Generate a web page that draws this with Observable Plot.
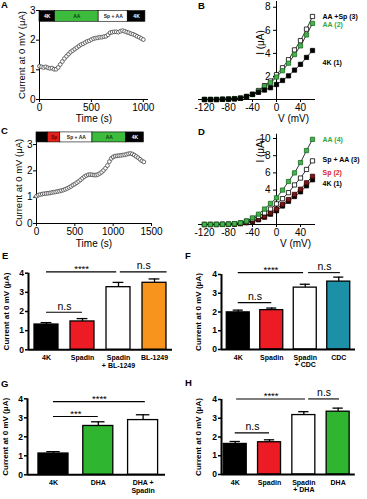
<!DOCTYPE html>
<html>
<head>
<meta charset="utf-8">
<script src="https://cdn.jsdelivr.net/npm/d3@7"></script>
<script src="https://cdn.jsdelivr.net/npm/@observablehq/plot@0.6"></script>
<style>
  html,body{margin:0;padding:0;background:#fff;}
  #root{position:relative;width:367px;height:499px;overflow:hidden;font-family:"Liberation Sans",Arial,sans-serif;}
  .panel{position:absolute;}
  .panel svg{overflow:visible;display:block;max-width:none;}
  .letter{position:absolute;font-weight:bold;font-size:9.5px;line-height:10px;color:#000;}
</style>
</head>
<body>
<div id="root"></div>
<script>
// ================= DATA =================
// Panel A: current at 0 mV over time
const aTime = [0,20,40,60,80,100,120,140,160,180,200,220,240,260,280,300,320,340,360,380,400,420,440,460,480,500,520,540,560,580,600,620,640,660,680,700,720,740,760,780,800,820,840,860,880,900,920,940,960,980,1000];
const aCurrent = [1.12,1.10,1.08,1.10,1.07,1.05,1.06,1.02,1.02,1.08,1.18,1.28,1.38,1.46,1.53,1.60,1.65,1.70,1.75,1.80,1.85,1.88,1.92,1.96,1.98,2.02,2.05,2.07,2.08,2.10,2.10,2.12,2.13,2.18,2.25,2.27,2.28,2.28,2.27,2.30,2.32,2.30,2.27,2.25,2.22,2.20,2.17,2.13,2.10,2.06,2.02];
const aProtoLabel = ["4K","AA","Sp + AA","4K"];
const aProtoText  = ["4K","AA","Sp + AA","4K"];
const aProtoStart = [0,150,570,850];
const aProtoEnd   = [150,570,850,1020];

// Panel C
const cTime = [0,25,50,75,100,125,150,175,200,225,250,275,300,325,350,375,400,425,450,475,500,525,550,575,600,625,650,675,700,725,750,775,800,825,850,875,900,925,950,975,1000,1025,1050,1075,1100,1125,1150,1175,1200,1225,1250,1275,1300,1325,1350,1375,1400];
const cCurrent = [1.04,1.08,1.10,1.12,1.13,1.14,1.15,1.16,1.18,1.19,1.20,1.22,1.23,1.25,1.27,1.30,1.33,1.37,1.41,1.46,1.50,1.55,1.60,1.66,1.72,1.78,1.82,1.85,1.86,1.85,1.84,1.84,1.86,1.90,1.95,2.02,2.10,2.20,2.35,2.47,2.53,2.56,2.57,2.58,2.59,2.60,2.61,2.63,2.65,2.66,2.64,2.60,2.55,2.50,2.44,2.38,2.34];
const cProtoLabel = ["4K","Sp","Sp + AA","AA","4K"];
const cProtoText  = ["","Sp","Sp + AA","AA","4K"];
const cProtoStart = [0,150,310,730,1170];
const cProtoEnd   = [150,310,730,1170,1400];

// Panels B & D: I-V curves
const ivVoltage = [-120,-110,-100,-90,-80,-70,-60,-50,-40,-30,-20,-10,0,10,20,30,40,50,60];
const b4K   = [0,0,0,0.02,0.03,0.05,0.1,0.25,0.45,0.62,0.82,1.02,1.3,1.65,2.05,2.55,3.05,3.65,4.25];
const bAA   = [0,0,0,0.02,0.04,0.07,0.12,0.25,0.42,0.7,1.1,1.45,1.95,2.5,3.15,3.9,4.65,5.6,6.6];
const bAASp = [0,0,0,0.02,0.04,0.08,0.13,0.27,0.45,0.78,1.2,1.6,2.15,2.75,3.45,4.3,5.1,6.1,7.2];
const bNames = ["AA +Sp (3)","AA (2)","4K (1)"];

const dAA   = [0,0,0.02,0.03,0.05,0.1,0.2,0.4,0.77,1.2,1.8,2.45,3.1,4.0,5.0,6.0,7.2,8.6,9.9];
const dSpAA = [0,0,0.01,0.02,0.04,0.08,0.2,0.4,0.65,0.95,1.35,1.8,2.4,3.0,3.7,4.6,5.4,6.4,7.4];
const dSp   = [0,0,0,0.01,0.03,0.06,0.12,0.25,0.42,0.65,0.95,1.35,1.8,2.35,2.9,3.5,4.1,4.85,5.6];
const d4K   = [0,0,0,0.01,0.02,0.05,0.1,0.2,0.35,0.55,0.85,1.2,1.6,2.15,2.7,3.25,3.8,4.5,5.2];
const dNames = ["AA (4)","Sp + AA (3)","Sp (2)","4K (1)"];

// Panels E-H: bar charts (mean, SEM)
const eNames = ["4K","Spadin","Spadin\n+ BL-1249","BL-1249"];
const eMeans = [1.32,1.48,3.27,3.5];
const eSEM   = [0.1,0.15,0.25,0.2];
const eSigFrom = [0,2.05,0], eSigTo = [1.95,3.35,1], eSigY = [4.07,4.07,1.96], eSigLabel = ["****","n.s","n.s"];

const fNames = ["4K","Spadin","Spadin\n+ CDC","CDC"];
const fMeans = [1.98,2.1,3.3,3.62];
const fSEM   = [0.12,0.11,0.18,0.24];
const fSigFrom = [0,2.1,0], fSigTo = [1.95,3.05,1], fSigY = [4.1,4.1,2.5], fSigLabel = ["****","n.s","n.s"];

const gNames = ["4K","DHA","DHA +\nSpadin"];
const gMeans = [1.12,2.57,2.88];
const gSEM   = [0.1,0.22,0.28];
const gSigFrom = [0,0], gSigTo = [1,2.05], gSigY = [3.07,3.85], gSigLabel = ["***","****"];

const hNames = ["4K","Spadin","Spadin\n+ DHA","DHA"];
const hMeans = [1.63,1.72,3.17,3.35];
const hSEM   = [0.13,0.13,0.18,0.19];
const hSigFrom = [0,0.04,2.14], hSigTo = [1,2.05,3.04], hSigY = [2.22,4.03,4.03], hSigLabel = ["n.s","****","n.s"];

// ================= STYLE =================
const FONT = '"Liberation Sans", Arial, Helvetica, sans-serif';
const PROTO_FILL = {"4K":"#000000","AA":"#3dbb3d","Sp + AA":"#ffffff","Sp":"#e3211c"};
const PROTO_TEXT = {"4K":"#ffffff","AA":"#0d3f0d","Sp + AA":"#222222","Sp":"#5a0000"};
const RED = "#ed1c24", ORANGE = "#f7941d", TEAL = "#1b90a6", GREEN = "#2fb52f";
const baseStyle = {fontFamily: FONT, fontSize: "10px", background: "transparent", overflow: "visible", maxWidth: "none"};
const fmt = d => String(d);
const CENTER = {textAnchor: "middle", lineAnchor: "middle"};

const root = document.getElementById("root");
function place(svg, left, top, w, h) {
  const d = document.createElement("div");
  d.className = "panel";
  d.style.left = left + "px"; d.style.top = top + "px";
  d.style.width = w + "px"; d.style.height = h + "px";
  d.appendChild(svg);
  root.appendChild(d);
}
function letter(ch, left, top) {
  const d = document.createElement("div");
  d.className = "letter";
  d.style.left = left + "px"; d.style.top = top + "px";
  d.textContent = ch;
  root.appendChild(d);
}

function timePanel(o) {
  const proto = o.protoLabel.map((l, i) => ({label: l, text: o.protoText[i], start: o.protoStart[i], end: o.protoEnd[i]}));
  return Plot.plot({
    width: o.width, height: o.height,
    marginLeft: o.ml, marginRight: o.mr, marginTop: o.mt, marginBottom: o.mb,
    x: {domain: o.xDomain}, y: {domain: o.yDomain},
    style: baseStyle,
    marks: [
      Plot.rect(proto, {x1: "start", x2: "end", y1: o.protoY[0], y2: o.protoY[1], fill: d => PROTO_FILL[d.label], stroke: "#000", strokeWidth: 0.6}),
      Plot.text(proto, {x: d => (d.start + d.end) / 2, y: (o.protoY[0] + o.protoY[1]) / 2, text: "text", fill: d => PROTO_TEXT[d.label], fontSize: 5, fontWeight: "bold"}),
      Plot.ruleY([0], {stroke: "#000", strokeWidth: 1}),
      Plot.ruleX([0], {stroke: "#000", strokeWidth: 1}),
      Plot.axisX({ticks: o.xTicks, tickFormat: fmt, tickSize: 3, tickPadding: 1, label: null, fontSize: 10}),
      Plot.axisY({ticks: o.yTicks, tickFormat: fmt, tickSize: 3, tickPadding: 1, label: null, fontSize: 10}),
      Plot.dot(o.time, {x: o.time, y: o.current, r: 1.9, stroke: "#555", fill: "#fff", strokeWidth: 0.9}),
      Plot.text(["Current at 0 mV (μA)"], {text: d => d, frameAnchor: "left", ...CENTER, rotate: -90, dx: o.yLabelDx, fontSize: 9.5}),
      Plot.text(["Time (s)"], {text: d => d, frameAnchor: "bottom", ...CENTER, dy: o.xLabelDy, fontSize: 10})
    ]
  });
}

function ivPanel(o) {
  const V = ivVoltage;
  const last = V.length - 1;
  const marks = [
    Plot.ruleY([0], {stroke: "#000", strokeWidth: 1}),
    Plot.ruleX([0], {stroke: "#000", strokeWidth: 1}),
    Plot.axisX({ticks: [-120, -80, -40, 0, 40], tickFormat: fmt, tickSize: 3, tickPadding: 1, label: null, fontSize: 10}),
    Plot.ruleY(o.yTicks, {y: d => d, x1: -5, x2: 0, stroke: "#000"}),
    Plot.text(o.yTicks, {x: 0, y: d => d, text: fmt, dx: -6, textAnchor: "end", fontSize: 10})
  ];
  for (const s of o.series) marks.push(Plot.line(V, {x: V, y: s.values, stroke: "#000", strokeWidth: 0.8}));
  for (const s of o.series) marks.push(Plot.dot(V, {x: V, y: s.values, symbol: "square", r: 2.4, fill: s.fill, stroke: s.stroke, strokeWidth: 0.8}));
  for (const s of o.series) marks.push(Plot.text([s.name], {text: d => d, x: V[last], y: s.values[last], dx: 10, dy: s.dy, textAnchor: "start", fill: s.labelFill, fontSize: 7, fontWeight: "bold"}));
  marks.push(Plot.text(["I (μA)"], {text: d => d, frameAnchor: "top-left", ...CENTER, dx: o.iLabel[0], dy: o.iLabel[1], rotate: -90, fontSize: 10}));
  marks.push(Plot.text(["V (mV)"], {text: d => d, frameAnchor: "bottom-left", ...CENTER, dx: o.vLabel[0], dy: o.vLabel[1], fontSize: 10}));
  return Plot.plot({
    width: o.width, height: o.height,
    marginLeft: o.ml, marginRight: o.mr, marginTop: o.mt, marginBottom: o.mb,
    x: {domain: [-130, 65]}, y: {domain: o.yDomain, axis: null},
    style: baseStyle,
    marks
  });
}

function barPanel(o) {
  const idx = o.names.map((_, i) => i);
  const sidx = o.sigLabel.map((_, i) => i);
  const m = o.means, e = o.sems;
  return Plot.plot({
    width: o.width, height: o.height,
    marginLeft: o.ml, marginRight: o.mr, marginTop: o.mt, marginBottom: o.mb,
    x: {domain: o.xDomain, axis: null}, y: {domain: [0, 4], axis: null},
    style: baseStyle,
    marks: [
      Plot.ruleX(idx, {x: i => i, y1: i => m[i], y2: i => m[i] + e[i], stroke: "#000", strokeWidth: 1.3}),
      Plot.ruleY(idx, {y: i => m[i] + e[i], x1: i => i - 0.15, x2: i => i + 0.15, stroke: "#000", strokeWidth: 1.3}),
      Plot.rect(idx, {x1: i => i - o.half, x2: i => i + o.half, y1: 0, y2: i => m[i], fill: i => o.fills[i], stroke: "#000", strokeWidth: 1.3}),
      Plot.ruleY([0], {stroke: "#000", strokeWidth: 2}),
      Plot.ruleX([o.xDomain[0]], {y1: 0, y2: 4, stroke: "#000", strokeWidth: 2}),
      Plot.axisY({ticks: [0, 1, 2, 3, 4], tickFormat: fmt, tickSize: 3, tickPadding: 1.5, strokeWidth: 1.5, fontWeight: "bold", fontSize: 8.5, label: null}),
      Plot.text(idx, {x: i => i, text: i => o.names[i], frameAnchor: "bottom", textAnchor: "middle", dy: 4.5, lineAnchor: "top", fontWeight: "bold", fontSize: 7, lineHeight: 1.12}),
      Plot.ruleY(sidx, {y: i => o.sigY[i], x1: i => o.sigFrom[i], x2: i => o.sigTo[i], stroke: "#000", strokeWidth: 1.1}),
      Plot.text(sidx, {filter: i => o.sigLabel[i].startsWith("*"), x: i => (o.sigFrom[i] + o.sigTo[i]) / 2, y: i => o.sigY[i], text: i => o.sigLabel[i], lineAnchor: "bottom", dy: 0.5, fontSize: 9.5}),
      Plot.text(sidx, {filter: i => !o.sigLabel[i].startsWith("*"), x: i => (o.sigFrom[i] + o.sigTo[i]) / 2, y: i => o.sigY[i], text: i => o.sigLabel[i], lineAnchor: "bottom", dy: -2.5, fontSize: 10.5}),
      Plot.text(["Current at 0 mV (μA)"], {text: d => d, frameAnchor: "left", ...CENTER, rotate: -90, dx: o.yLabelDx, fontWeight: "bold", fontSize: 8})
    ]
  });
}

// ================= BUILD =================
place(timePanel({time: aTime, current: aCurrent, protoLabel: aProtoLabel, protoText: aProtoText, protoStart: aProtoStart, protoEnd: aProtoEnd,
  protoY: [2.62, 2.98], width: 183, height: 125, ml: 39, mr: 35, mt: 10, mb: 26,
  xDomain: [0, 1050], yDomain: [0, 3], xTicks: [0, 500, 1000], yTicks: [0, 1, 2, 3], yLabelDx: -18, xLabelDy: 19}), 0, 0, 183, 125);

place(ivPanel({width: 184, height: 125, ml: 15, mr: 52, mt: 1, mb: 26, yDomain: [0, 8.5], yTicks: [2, 4, 6, 8],
  iLabel: [62, 41], vLabel: [95, 19],
  series: [
    {name: bNames[0], values: bAASp, fill: "#fff", stroke: "#000", labelFill: "#000", dy: 0},
    {name: bNames[1], values: bAA, fill: "#43b34a", stroke: "#1d6b25", labelFill: "#2fa83a", dy: 1},
    {name: bNames[2], values: b4K, fill: "#000", stroke: "#000", labelFill: "#000", dy: 12}
  ]}), 183, 0, 184, 125);

place(timePanel({time: cTime, current: cCurrent, protoLabel: cProtoLabel, protoText: cProtoText, protoStart: cProtoStart, protoEnd: cProtoEnd,
  protoY: [3.08, 3.46], width: 183, height: 125, ml: 36, mr: 32, mt: 16.4, mb: 27,
  xDomain: [0, 1500], yDomain: [0, 3.1], xTicks: [0, 500, 1000, 1500], yTicks: [0, 1, 2, 3], yLabelDx: -18, xLabelDy: 20}), 0, 125, 183, 125);

place(ivPanel({width: 184, height: 125, ml: 15, mr: 52, mt: 8.7, mb: 26, yDomain: [0, 10.5], yTicks: [4, 6, 8, 10],
  iLabel: [62, 16], vLabel: [97, 19],
  series: [
    {name: dNames[3], values: d4K, fill: "#000", stroke: "#000", labelFill: "#000", dy: 4},
    {name: dNames[2], values: dSp, fill: "#7a1616", stroke: "#3a0000", labelFill: "#d8262b", dy: -4},
    {name: dNames[1], values: dSpAA, fill: "#fff", stroke: "#000", labelFill: "#000", dy: -1},
    {name: dNames[0], values: dAA, fill: "#43b34a", stroke: "#1d6b25", labelFill: "#2fa83a", dy: 0}
  ]}), 183, 125, 184, 125);

place(barPanel({names: eNames, means: eMeans, sems: eSEM, fills: ["#000", RED, "#fff", ORANGE],
  sigFrom: eSigFrom, sigTo: eSigTo, sigY: eSigY, sigLabel: eSigLabel,
  width: 183, height: 125, ml: 28, mr: 11, mt: 22.7, mb: 25.7, xDomain: [-0.5, 3.5], half: 0.333, yLabelDx: -22}), 0, 250, 183, 125);

place(barPanel({names: fNames, means: fMeans, sems: fSEM, fills: ["#000", RED, "#fff", TEAL],
  sigFrom: fSigFrom, sigTo: fSigTo, sigY: fSigY, sigLabel: fSigLabel,
  width: 184, height: 125, ml: 38, mr: 12, mt: 24, mb: 26, xDomain: [-0.5, 3.5], half: 0.343, yLabelDx: -23}), 183, 250, 184, 125);

place(barPanel({names: gNames, means: gMeans, sems: gSEM, fills: ["#000", GREEN, "#fff"],
  sigFrom: gSigFrom, sigTo: gSigTo, sigY: gSigY, sigLabel: gSigLabel,
  width: 183, height: 124, ml: 27, mr: 18, mt: 23.3, mb: 24.7, xDomain: [-0.58, 2.5], half: 0.335, yLabelDx: -22}), 0, 375, 183, 124);

place(barPanel({names: hNames, means: hMeans, sems: hSEM, fills: ["#000", RED, "#fff", GREEN],
  sigFrom: hSigFrom, sigTo: hSigTo, sigY: hSigY, sigLabel: hSigLabel,
  width: 184, height: 124, ml: 38, mr: 12.2, mt: 24, mb: 25, xDomain: [-0.4, 3.5], half: 0.335, yLabelDx: -23}), 183, 375, 184, 124);

letter("A", 1, 0);
letter("B", 198, 1);
letter("C", 1, 126);
letter("D", 198, 127);
letter("E", 2, 251);
letter("F", 185, 251);
letter("G", 1, 379);
letter("H", 185, 378);
</script>
</body>
</html>
